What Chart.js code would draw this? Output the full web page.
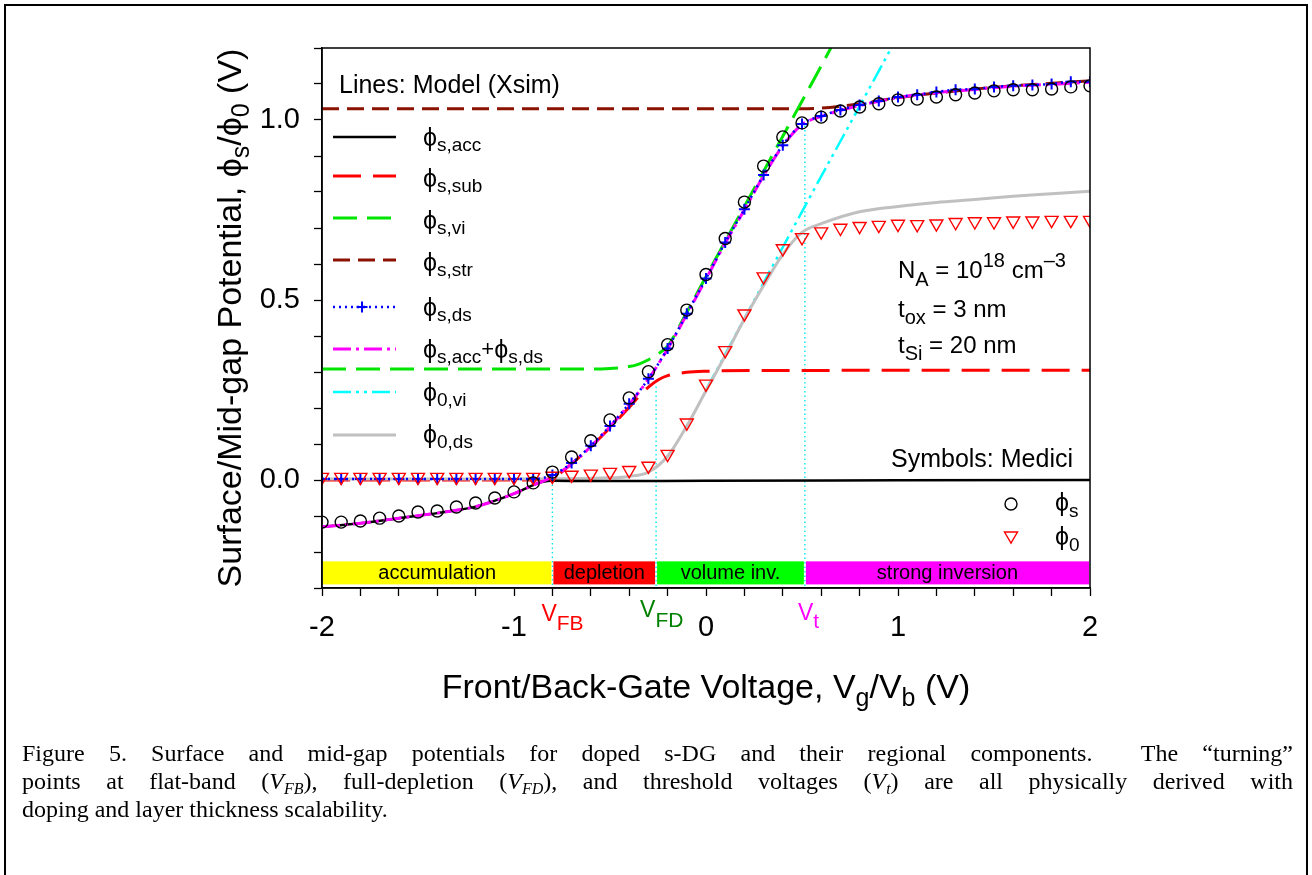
<!DOCTYPE html>
<html>
<head>
<meta charset="UTF-8">
<title>Figure 5 - surface and mid-gap potentials</title>
<script src="https://cdn.jsdelivr.net/npm/chart.js@4.4.1/dist/chart.umd.min.js"></script>
<style>
  html, body { margin: 0; padding: 0; background: #fff; }
</style>
</head>
<body>
<canvas id="fig" width="1312" height="875"></canvas>

<script>
// gate voltage grid of the Medici symbols (V)
const vg = [-2.0, -1.9, -1.8, -1.7, -1.6, -1.5, -1.4, -1.3, -1.2, -1.1, -1.0,
            -0.9, -0.8, -0.7, -0.6, -0.5, -0.4, -0.3, -0.2, -0.1, 0.0,
             0.1, 0.2, 0.3, 0.4, 0.5, 0.6, 0.7, 0.8, 0.9, 1.0,
             1.1, 1.2, 1.3, 1.4, 1.5, 1.6, 1.7, 1.8, 1.9, 2.0];

// symbols: Medici
const phiSMedici = [-0.117, -0.117, -0.114, -0.106, -0.100, -0.089, -0.086, -0.075, -0.064, -0.050, -0.033,
                    -0.008, 0.022, 0.064, 0.109, 0.167, 0.228, 0.301, 0.376, 0.472, 0.571,
                     0.671, 0.772, 0.872, 0.953, 0.992, 1.008, 1.025, 1.036, 1.045, 1.056,
                     1.058, 1.064, 1.070, 1.075, 1.081, 1.084, 1.084, 1.086, 1.092, 1.095];
const phi0Medici = [0.008, 0.008, 0.008, 0.008, 0.008, 0.008, 0.008, 0.008, 0.008, 0.008, 0.008,
                    0.008, 0.011, 0.014, 0.017, 0.022, 0.027, 0.039, 0.072, 0.159, 0.267,
                    0.360, 0.462, 0.565, 0.643, 0.674, 0.690, 0.700, 0.705, 0.708, 0.711,
                    0.710, 0.712, 0.716, 0.718, 0.718, 0.720, 0.720, 0.722, 0.722, 0.722];

// model phi_s,ds (dotted line with + marks on the same grid)
const phiSds = [0.003, 0.003, 0.003, 0.003, 0.003, 0.003, 0.003, 0.003, 0.003, 0.003, 0.003,
                0.003, 0.014, 0.047, 0.095, 0.150, 0.212, 0.281, 0.365, 0.462, 0.560,
                0.660, 0.752, 0.847, 0.930, 0.989, 1.011, 1.028, 1.042, 1.053, 1.064,
                1.070, 1.078, 1.084, 1.086, 1.092, 1.095, 1.097, 1.100, 1.106, 1.106];

// model lines (Xsim)
const accX = [-2.0, -1.8, -1.6, -1.4, -1.2, -1.0, -0.9, -0.85, -0.8, -0.6, 0.0, 1.0, 2.0];
const accY = [-0.130, -0.120, -0.106, -0.092, -0.074, -0.038, -0.014, -0.005, -0.002, -0.003, -0.002, -0.001, 0.0];

const subX = [-2.0, -0.9, -0.8, -0.7, -0.6, -0.5, -0.4, -0.35, -0.3, -0.25, -0.2, -0.1, 0.0, 0.3, 2.0];
const subY = [0.0, 0.0, 0.006, 0.045, 0.092, 0.145, 0.202, 0.232, 0.258, 0.278, 0.290, 0.299, 0.302, 0.304, 0.305];

const viX = [-2.0, -0.6, -0.5, -0.4, -0.35, -0.3, -0.25, -0.2, -0.1, 0.0, 0.2, 0.4, 0.6, 0.7];
const viY = [0.308, 0.308, 0.310, 0.315, 0.322, 0.334, 0.350, 0.372, 0.466, 0.565, 0.760, 0.955, 1.150, 1.250];

const strX = [-2.0, 0.5, 0.6, 0.7, 0.8, 1.0, 1.2, 1.4, 1.6, 1.8, 2.0];
const strY = [1.031, 1.031, 1.033, 1.038, 1.045, 1.062, 1.075, 1.086, 1.095, 1.102, 1.109];

const sumX = [-2.0, -1.8, -1.6, -1.4, -1.2, -1.0, -0.9, -0.8, -0.7, -0.6, -0.5, -0.4, -0.3, -0.2, -0.1,
              0.0, 0.1, 0.2, 0.3, 0.4, 0.5, 0.6, 0.8, 1.0, 1.2, 1.4, 1.6, 1.8, 2.0];
const sumY = [-0.130, -0.120, -0.106, -0.092, -0.074, -0.038, -0.014, 0.008, 0.045, 0.093, 0.148, 0.210, 0.280, 0.364, 0.460,
              0.558, 0.658, 0.750, 0.845, 0.928, 0.987, 1.010, 1.040, 1.062, 1.076, 1.085, 1.094, 1.099, 1.105];

const vi0X = [0.0, 0.52, 0.97, 1.0];
const vi0Y = [0.250, 0.765, 1.205, 1.235];

const ds0X = [-2.0, -1.0, -0.5, -0.4, -0.3, -0.2, -0.1, 0.0, 0.1, 0.2, 0.3, 0.4, 0.5, 0.6, 0.8, 1.0, 1.2, 1.4, 1.6, 1.8, 2.0];
const ds0Y = [0.003, 0.003, 0.006, 0.010, 0.022, 0.066, 0.150, 0.248, 0.345, 0.447, 0.540, 0.627, 0.688, 0.712, 0.745, 0.760, 0.771, 0.779, 0.788, 0.795, 0.802];

// turning points V_FB, V_FD, V_t and where their dotted markers start
const turnV   = [-0.8, -0.26, 0.515];
const turnTop = [0.0, 0.26, 0.985];

// operating regions shown along the bottom
const regionEdges  = [-2.0, -0.8, -0.26, 0.515, 2.0];
const regionNames  = ['accumulation', 'depletion', 'volume inv.', 'strong inversion'];
const regionColors = ['#ffff00', '#ff0000', '#00ff00', '#ff00ff'];
</script>

<script>
const SANS = '"Liberation Sans", Arial, "DejaVu Sans", sans-serif';
const SERIF = '"Liberation Serif", "Times New Roman", serif';
const PHI = '\u03D5';

function pts(xs, ys) { return xs.map((x, i) => ({ x: x, y: ys[i] })); }

function lineDs(label, xs, ys, color, width, dash) {
  return {
    label: label, data: pts(xs, ys),
    borderColor: color, borderWidth: width, borderDash: dash || [],
    pointRadius: 0, cubicInterpolationMode: 'monotone', fill: false
  };
}

function vline(i) {
  return {
    label: 'turn' + i,
    data: [{ x: turnV[i], y: turnTop[i] }, { x: turnV[i], y: -0.3 }],
    borderColor: '#00e8f0', borderWidth: 1.4, borderDash: [1.5, 3],
    pointRadius: 0, tension: 0
  };
}

const datasets = [
  { label: 'phi_s Medici', data: pts(vg, phiSMedici), showLine: false,
    pointStyle: 'circle', pointRadius: 6, pointBorderWidth: 1.4,
    pointBorderColor: '#000', pointBackgroundColor: 'rgba(0,0,0,0)' },
  { label: 'phi_0 Medici', data: pts(vg, phi0Medici), showLine: false,
    pointStyle: 'triangle', pointRotation: 180, pointRadius: 7.5, pointBorderWidth: 1.4,
    pointBorderColor: '#ff0000', pointBackgroundColor: 'rgba(0,0,0,0)' },
  Object.assign(lineDs('phi_s,ds', vg, phiSds, '#0000ff', 2.5, [2, 4]),
    { pointStyle: 'cross', pointRadius: 5.5, pointBorderWidth: 2, pointBorderColor: '#0000ff' }),
  lineDs('phi_s,acc+phi_s,ds', sumX, sumY, '#ff00ff', 3, [18, 5, 3, 5]),
  lineDs('phi_s,acc', accX, accY, '#000000', 2.5),
  lineDs('phi_0,ds', ds0X, ds0Y, '#c0c0c0', 3),
  lineDs('phi_0,vi', vi0X, vi0Y, '#00ffff', 2.5, [18, 5, 3, 5, 3, 5]),
  lineDs('phi_s,sub', subX, subY, '#ff0000', 3, [28, 12]),
  lineDs('phi_s,vi', viX, viY, '#00e600', 3, [24, 10]),
  lineDs('phi_s,str', strX, strY, '#8b1100', 3, [17, 8]),
  vline(0), vline(1), vline(2)
];

// rich text helpers (sub/superscripts)
function R(t, size, dy, opt) { return Object.assign({ t: t, size: size, dy: dy || 0 }, opt || {}); }
function runFont(r) { return (r.italic ? 'italic ' : '') + r.size + 'px ' + (r.fam || SANS); }
function drawRuns(ctx, runs, x, y, align, color) {
  let w = 0;
  runs.forEach(r => { ctx.font = runFont(r); w += ctx.measureText(r.t).width; });
  let cx = align === 'center' ? x - w / 2 : (align === 'right' ? x - w : x);
  ctx.textAlign = 'left';
  ctx.textBaseline = 'alphabetic';
  runs.forEach(r => {
    ctx.font = runFont(r);
    ctx.fillStyle = r.color || color || '#000';
    ctx.fillText(r.t, cx, y + r.dy);
    cx += ctx.measureText(r.t).width;
  });
  return w;
}
// justified paragraph line: only spaces in runs get stretched
function drawJustified(ctx, runs, x, y, width, justify) {
  let natural = 0, spaces = 0;
  runs.forEach(r => {
    ctx.font = runFont(r);
    natural += ctx.measureText(r.t).width;
    spaces += (r.t.match(/ /g) || []).length;
  });
  const extra = (justify && spaces) ? (width - natural) / spaces : 0;
  let cx = x;
  ctx.textAlign = 'left';
  ctx.textBaseline = 'alphabetic';
  ctx.fillStyle = '#000';
  runs.forEach(r => {
    ctx.font = runFont(r);
    const words = r.t.split(' ');
    words.forEach((w, i) => {
      ctx.fillText(w, cx, y + r.dy);
      cx += ctx.measureText(w).width;
      if (i < words.length - 1) cx += ctx.measureText(' ').width + extra;
    });
  });
}

// legend rows on the left: dataset index, sample y, label baseline, label runs
const legendRows = [
  { ds: 4, ly: 137, ty: 146, runs: [R(PHI, 25), R('s,acc', 19, 5)] },
  { ds: 7, ly: 176, ty: 187, runs: [R(PHI, 25), R('s,sub', 19, 5)] },
  { ds: 8, ly: 218, ty: 229, runs: [R(PHI, 25), R('s,vi', 19, 5)] },
  { ds: 9, ly: 260, ty: 271, runs: [R(PHI, 25), R('s,str', 19, 5)] },
  { ds: 2, ly: 307, ty: 316, runs: [R(PHI, 25), R('s,ds', 19, 5)] },
  { ds: 3, ly: 349, ty: 358, runs: [R(PHI, 25), R('s,acc', 19, 5), R('+', 22, -2), R(PHI, 25), R('s,ds', 19, 5)] },
  { ds: 6, ly: 392, ty: 401, runs: [R(PHI, 25), R('0,vi', 19, 5)] },
  { ds: 5, ly: 435, ty: 443, runs: [R(PHI, 25), R('0,ds', 19, 5)] }
];

const figurePlugin = {
  id: 'figure',
  afterDraw(chart) {
    const ctx = chart.ctx, xs = chart.scales.x, ys = chart.scales.y, a = chart.chartArea;
    ctx.save();

    // outer frame of the figure
    ctx.strokeStyle = '#000';
    ctx.lineWidth = 2;
    ctx.strokeRect(5, 5, 1302, 890);

    // plot box
    ctx.lineWidth = 1.5;
    ctx.strokeRect(a.left, a.top, a.right - a.left, a.bottom - a.top);

    // region bars
    const yT = ys.getPixelForValue(-0.226), yB = ys.getPixelForValue(-0.29);
    for (let i = 0; i < regionNames.length; i++) {
      const x0 = xs.getPixelForValue(regionEdges[i]) + 1;
      const x1 = xs.getPixelForValue(regionEdges[i + 1]) - 1;
      ctx.fillStyle = regionColors[i];
      ctx.fillRect(x0, yT, x1 - x0, yB - yT);
      ctx.fillStyle = '#000';
      ctx.font = '20px ' + SANS;
      ctx.textAlign = 'center';
      ctx.textBaseline = 'middle';
      ctx.fillText(regionNames[i], (x0 + x1) / 2, (yT + yB) / 2 + 1);
    }

    // left legend
    drawRuns(ctx, [R('Lines: Model (Xsim)', 25)], 339, 93, 'left');
    legendRows.forEach(row => {
      const d = chart.data.datasets[row.ds];
      ctx.strokeStyle = d.borderColor;
      ctx.lineWidth = d.borderWidth;
      ctx.setLineDash(d.borderDash || []);
      ctx.beginPath();
      ctx.moveTo(333, row.ly);
      ctx.lineTo(396, row.ly);
      ctx.stroke();
      ctx.setLineDash([]);
      if (row.ds === 2) {
        ctx.lineWidth = 2;
        ctx.beginPath();
        ctx.moveTo(362, row.ly - 5.5); ctx.lineTo(362, row.ly + 5.5);
        ctx.moveTo(356.5, row.ly); ctx.lineTo(367.5, row.ly);
        ctx.stroke();
      }
      drawRuns(ctx, row.runs, 423, row.ty, 'left');
    });

    // device parameters
    drawRuns(ctx, [R('N', 24), R('A', 20, 8), R(' = 10', 24), R('18', 20, -11), R(' cm', 24), R('\u20133', 20, -11)], 898, 278, 'left');
    drawRuns(ctx, [R('t', 24), R('ox', 20, 7), R(' = 3 nm', 24)], 898, 317, 'left');
    drawRuns(ctx, [R('t', 24), R('Si', 20, 7), R(' = 20 nm', 24)], 898, 353, 'left');

    // symbol legend
    drawRuns(ctx, [R('Symbols: Medici', 25)], 891, 467, 'left');
    ctx.lineWidth = 1.4;
    ctx.strokeStyle = '#000';
    ctx.beginPath();
    ctx.arc(1011, 504, 6, 0, Math.PI * 2);
    ctx.stroke();
    ctx.strokeStyle = '#ff0000';
    ctx.beginPath();
    ctx.moveTo(1004.5, 532); ctx.lineTo(1017.5, 532); ctx.lineTo(1011, 543); ctx.closePath();
    ctx.stroke();
    drawRuns(ctx, [R(PHI, 25), R('s', 19, 6)], 1055, 511, 'left');
    drawRuns(ctx, [R(PHI, 25), R('0', 19, 6)], 1055, 545, 'left');

    // turning-point labels under the axis
    const vl = [
      { c: '#ff0000', s: 'FB', dx: -11, y: 621, dy: 9 },
      { c: '#008000', s: 'FD', dx: -16, y: 617, dy: 10 },
      { c: '#ff00ff', s: 't',  dx: -7,  y: 620, dy: 8 }
    ];
    vl.forEach((v, i) => {
      drawRuns(ctx, [R('V', 23), R(v.s, 21, v.dy)], xs.getPixelForValue(turnV[i]) + v.dx, v.y, 'left', v.c);
    });

    // axis titles
    drawRuns(ctx, [R('Front/Back-Gate Voltage, V', 34), R('g', 25, 8), R('/V', 34), R('b', 25, 8), R(' (V)', 34)],
      (a.left + a.right) / 2, 698, 'center');
    ctx.save();
    ctx.translate(241, 318);
    ctx.rotate(-Math.PI / 2);
    drawRuns(ctx, [R('Surface/Mid-gap Potential, ' + PHI, 34), R('s', 25, 8), R('/' + PHI, 34), R('0', 25, 8), R(' (V)', 34)],
      0, 0, 'center');
    ctx.restore();

    // caption
    const cap = { fam: SERIF };
    const capI = { fam: SERIF, italic: true };
    drawJustified(ctx, [R('Figure 5. Surface and mid-gap potentials for doped s-DG and their regional components.  The \u201Cturning\u201D', 24, 0, cap)],
      22, 761, 1271, true);
    drawJustified(ctx, [
      R('points at flat-band (', 24, 0, cap), R('V', 24, 0, capI), R('FB', 16, 5, capI),
      R('), full-depletion (', 24, 0, cap), R('V', 24, 0, capI), R('FD', 16, 5, capI),
      R('), and threshold voltages (', 24, 0, cap), R('V', 24, 0, capI), R('t', 16, 5, capI),
      R(') are all physically derived with', 24, 0, cap)
    ], 22, 789, 1271, true);
    drawJustified(ctx, [R('doping and layer thickness scalability.', 24, 0, cap)], 22, 817, 1271, false);

    ctx.restore();
  }
};

Chart.defaults.font.family = SANS;
Chart.defaults.color = '#000';

new Chart(document.getElementById('fig'), {
  type: 'line',
  data: { datasets: datasets },
  options: {
    responsive: false,
    animation: false,
    devicePixelRatio: 1,
    layout: { padding: { left: 205, top: 48, right: 222, bottom: 180 } },
    plugins: { legend: { display: false }, tooltip: { enabled: false } },
    scales: {
      x: {
        type: 'linear', min: -2, max: 2,
        ticks: {
          stepSize: 0.2, autoSkip: false, maxRotation: 0, padding: 15,
          font: { size: 29 }, color: '#000',
          callback: v => Math.abs(v - Math.round(v)) < 1e-6 ? String(Math.round(v)) : ''
        },
        grid: { drawOnChartArea: false, tickLength: 8, tickColor: '#000', tickWidth: 1.3 },
        border: { color: '#000', width: 1.5 },
        afterFit: s => { s.height = 107; }
      },
      y: {
        type: 'linear', min: -0.3, max: 1.2,
        ticks: {
          stepSize: 0.1, autoSkip: false, padding: 14,
          font: { size: 29 }, color: '#000',
          callback: v => {
            const r = Math.round(v * 2) / 2;
            return Math.abs(v - r) < 1e-6 ? r.toFixed(1) : '';
          }
        },
        grid: { drawOnChartArea: false, tickLength: 8, tickColor: '#000', tickWidth: 1.3 },
        border: { color: '#000', width: 1.5 },
        afterFit: s => { s.width = 117; }
      }
    }
  },
  plugins: [figurePlugin]
});
</script>
</body>
</html>
